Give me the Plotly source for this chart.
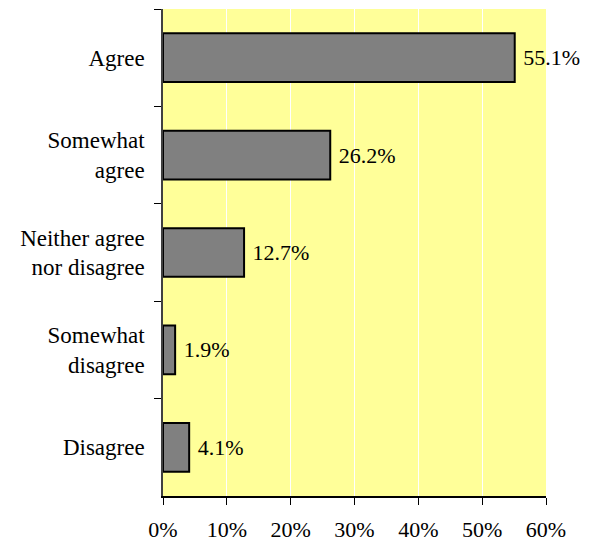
import plotly.graph_objects as go

categories = ["Agree", "Somewhat<br>agree", "Neither agree<br>nor disagree", "Somewhat<br>disagree", "Disagree"]
values = [55.1, 26.2, 12.7, 1.9, 4.1]
labels = [f" {v:.1f}%" for v in values]
x_ticks = [0, 10, 20, 30, 40, 50, 60]
x_tick_text = [f"{t}%" for t in x_ticks]

font_family = "Liberation Serif"
txt = dict(family=font_family, size=22, color="black")

# page body has an 8px margin, so the figure is shifted by 8px
fig = go.Figure(go.Bar(
    x=values,
    y=categories,
    orientation="h",
    width=0.5,
    marker=dict(color="#808080", line=dict(color="black", width=2)),
    text=labels,
    textposition="outside",
    textfont=txt,
    cliponaxis=False,
))

fig.update_layout(
    width=583, height=536,
    margin=dict(l=155, r=45, t=1, b=48),
    plot_bgcolor="#FFFF99",
    paper_bgcolor="white",
    showlegend=False,
    font=txt,
)
fig.update_xaxes(
    range=[0, 60],
    tickvals=x_ticks, ticktext=x_tick_text,
    tickfont=txt,
    showgrid=True, gridcolor="white", gridwidth=1,
    zeroline=False,
    showline=True, linecolor="black", linewidth=1.5,
    ticks="outside", ticklen=7, tickcolor="black",
    ticklabelstandoff=6,
)
fig.update_yaxes(
    autorange="reversed",
    tickfont=dict(family=font_family, size=23, color="black"),
    showgrid=False, zeroline=False,
    showline=True, linecolor="#404040", linewidth=1.5,
    ticks="outside", ticklen=7, tickcolor="black",
    tickson="boundaries",
    ticklabelstandoff=12,
)

fig.write_html("out.html")
